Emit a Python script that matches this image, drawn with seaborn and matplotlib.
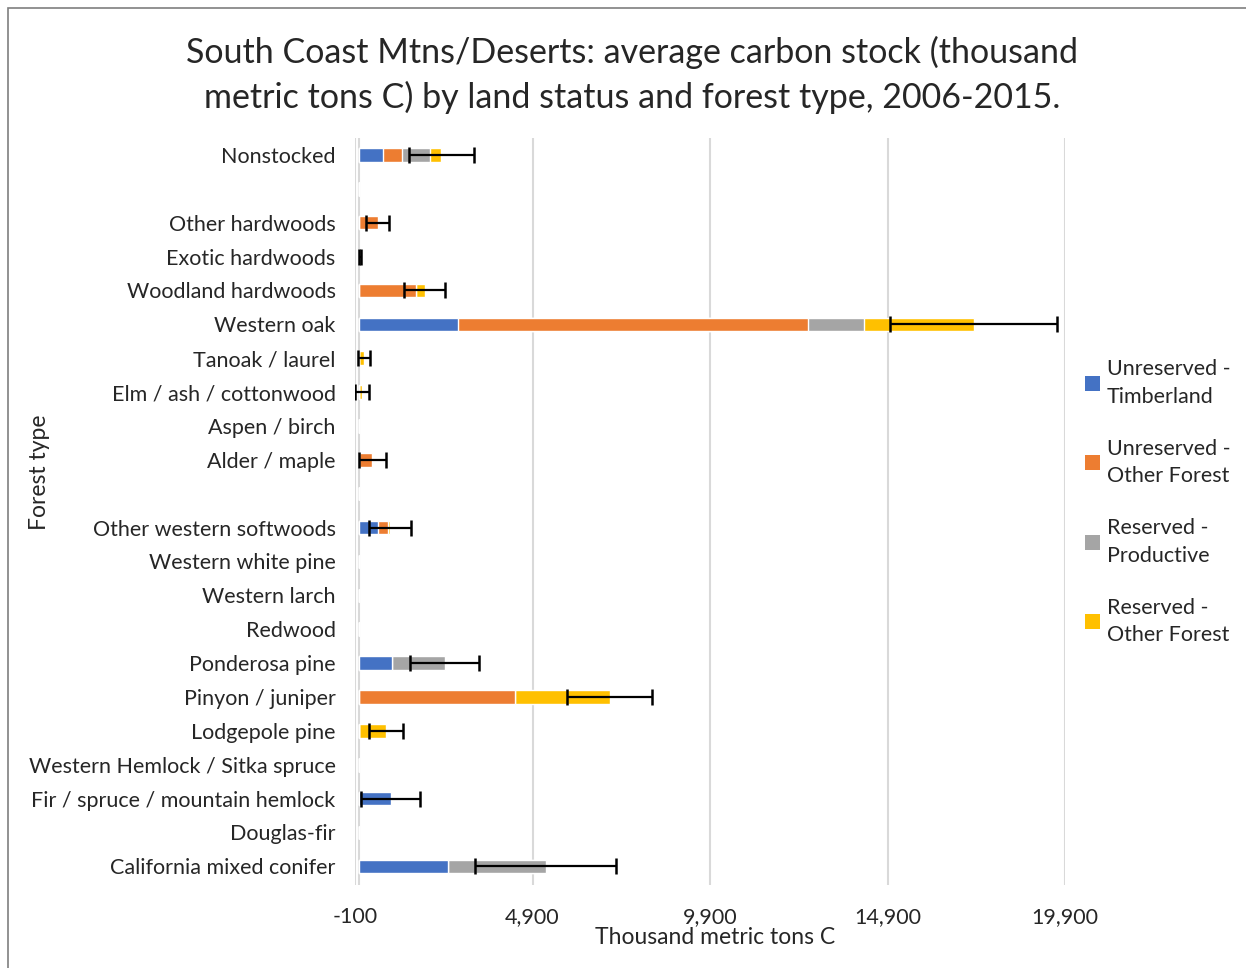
import matplotlib
matplotlib.use("Agg")
import matplotlib.pyplot as plt
from matplotlib.patches import Patch, Rectangle
import seaborn as sns
import pandas as pd
import numpy as np

# forest types, top to bottom (blank strings are the gaps between groups)
forest_types = ["Nonstocked", " ", "Other hardwoods", "Exotic hardwoods",
                "Woodland hardwoods", "Western oak", "Tanoak / laurel",
                "Elm / ash / cottonwood", "Aspen / birch", "Alder / maple", "  ",
                "Other western softwoods", "Western white pine", "Western larch",
                "Redwood", "Ponderosa pine", "Pinyon / juniper", "Lodgepole pine",
                "Western Hemlock / Sitka spruce", "Fir / spruce / mountain hemlock",
                "Douglas-fir", "California mixed conifer"]

# thousand metric tons C
unres_timber = [700, 0, 0, 0, 0, 2790, 0, 0, 0, 0, 0, 535, 0, 0, 0, 930, 0, 0, 0, 900, 0, 2510]
unres_other = [535, 0, 535, 40, 1605, 9860, 0, 0, 0, 380, 0, 295, 0, 0, 0, 0, 4395, 0, 0, 0, 0, 0]
res_prod = [790, 0, 0, 0, 0, 1580, 0, 0, 0, 0, 0, 0, 0, 0, 0, 1495, 0, 0, 0, 0, 0, 2760]
res_other = [310, 0, 0, 0, 255, 3100, 150, 100, 0, 0, 0, 55, 0, 0, 0, 0, 2675, 775, 0, 0, 0, 0]
error = [915, 0, 330, 15, 580, 2350, 160, 200, 0, 380, 0, 580, 0, 0, 0, 970, 1185, 480, 0, 845, 0, 1985]

series = ["Unreserved -\nTimberland", "Unreserved -\nOther Forest",
          "Reserved -\nProductive", "Reserved -\nOther Forest"]
colors = ["#4472C4", "#ED7D31", "#A5A5A5", "#FFC000"]

df = pd.DataFrame({"type": forest_types, series[0]: unres_timber, series[1]: unres_other,
                   series[2]: res_prod, series[3]: res_other, "err": error})
cum = df[series].cumsum(axis=1)

sns.set_style("white")
plt.rcParams["font.family"] = ["Lato", "DejaVu Sans"]

fig = plt.figure(figsize=(12.46, 9.68), dpi=100)
ax = fig.add_axes([355 / 1246, 1 - 885 / 968, 710 / 1246, 747 / 968])

# stacked bars: draw cumulative totals from the last series back to the first
for s, c in reversed(list(zip(series, colors))):
    sns.barplot(x=cum[s], y=df["type"], orient="h", color=c, width=0.4,
                saturation=1, ax=ax, zorder=2)

ypos = np.arange(len(forest_types))
tot = cum[series[-1]].values
mask = tot > 0
ax.errorbar(tot[mask], ypos[mask], xerr=df["err"].values[mask], fmt="none",
            ecolor="black", elinewidth=1.6, capsize=6, capthick=1.8, zorder=3)

ax.set_xlim(-100, 19900)
ax.set_ylim(21.55, -0.5)
ticks = [-100, 4900, 9900, 14900, 19900]
ax.set_xticks(ticks)
ax.set_xticklabels([f"{t:,}" for t in ticks], fontsize=15.5)
ax.tick_params(axis="y", labelsize=15.5, length=0, pad=14)
ax.tick_params(axis="x", length=0, pad=16)
for t in ticks[1:]:
    ax.axvline(t, color="#D9D9D9", lw=1.5, zorder=0)
ax.axvline(-100, color="#D9D9D9", lw=1.5, zorder=0)
ax.axvline(0, color="#D9D9D9", lw=1.5, zorder=1)
for sp in ax.spines.values():
    sp.set_visible(False)
ax.set_xlabel("")
ax.set_ylabel("")

fig.text(715 / 1246, 1 - 938 / 968, "Thousand metric tons C", fontsize=16.5,
         ha="center", va="center")
fig.text(40 / 1246, 1 - 472 / 968, "Forest type", fontsize=16.5, rotation=90,
         ha="center", va="center")

fig.suptitle("South Coast Mtns/Deserts: average carbon stock (thousand\n"
             "metric tons C) by land status and forest type, 2006-2015.",
             fontsize=24.5, x=632 / 1246, y=1 - 36 / 968, va="top", linespacing=1.42)

handles = [Patch(facecolor=c, edgecolor="none") for c in colors]
leg = fig.legend(handles, series, loc="upper left",
                 bbox_to_anchor=(1066 / 1246, 1 - 340 / 968), frameon=False,
                 fontsize=15.5, handlelength=0.7, handleheight=0.7,
                 handletextpad=0.3, labelspacing=1.5)
for t in leg.get_texts():
    t.set_linespacing(1.45)

fig.patches.append(Rectangle((8 / 1246, -0.01), 1.02, 1.0 - 8 / 968 + 0.01,
                             transform=fig.transFigure, fill=False,
                             edgecolor="#7F7F7F", lw=1.2))

fig.savefig("out.png", dpi=100)
